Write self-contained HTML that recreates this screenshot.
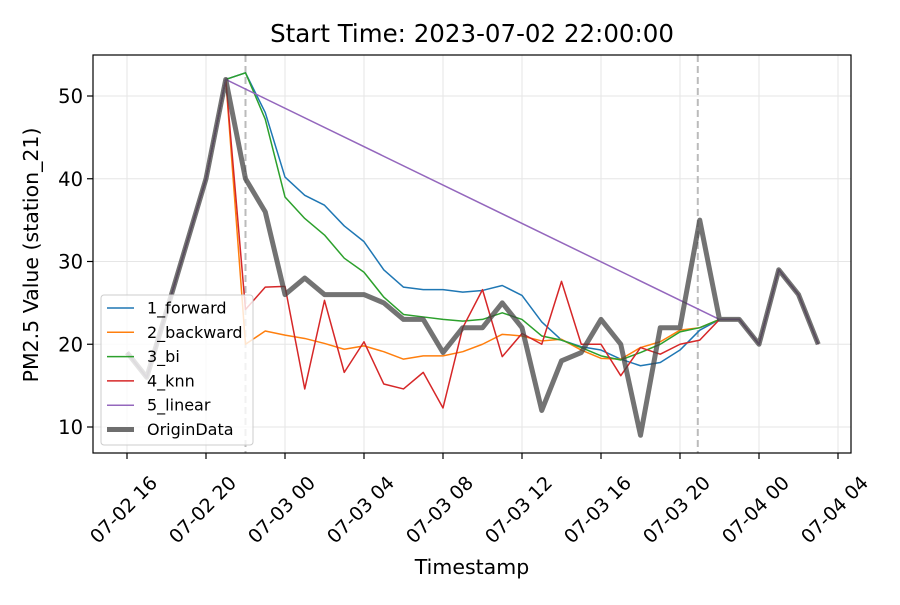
<!DOCTYPE html>
<html><head><meta charset="utf-8"><style>
body{margin:0;background:#fff}
svg text{font-family:"DejaVu Sans","Liberation Sans",sans-serif;fill:#000}
</style></head><body>
<svg id="c" width="900" height="600" xmlns="http://www.w3.org/2000/svg"></svg>
<script>
const xTickLabels=["07-02 16","07-02 20","07-03 00","07-03 04","07-03 08","07-03 12","07-03 16","07-03 20","07-04 00","07-04 04"];
const yTicks=[10,20,30,40,50];
const origin=[19,16,24,32,40,52,40,36,26,28,26,26,26,25,23,23,19,22,22,25,22,12,18,19,23,20,9,22,22,35,23,23,20,29,26,20];
const gapStart=5;
const forward=[52,52.8,48,40.2,38,36.8,34.3,32.4,29,26.9,26.6,26.6,26.3,26.5,27.1,25.9,22.7,20.5,19.7,19.3,18.2,17.4,17.8,19.3,21.7,23];
const backward=[52,20,21.6,21.1,20.7,20.1,19.4,19.8,19.1,18.2,18.6,18.6,19.1,20.0,21.2,21.0,20.4,20.6,19.3,18.3,18.2,19.6,20.3,21.7,22.0,23];
const bi=[52,52.8,47.2,37.8,35.2,33.2,30.4,28.7,25.7,23.6,23.3,23.0,22.8,23.0,23.8,23.0,21.0,20.5,19.6,18.6,18.1,19.0,20.0,21.5,22.0,23];
const knn=[52,24.2,26.9,27.0,14.6,25.3,16.6,20.3,15.2,14.6,16.6,12.3,22.0,26.6,18.5,21.3,20.0,27.6,20.0,20.0,16.2,19.6,18.8,20.0,20.5,23];
const linear=[52,23];
const linearIdx=[5,30];
const dashedIdx=[6,28.9];

const NS="http://www.w3.org/2000/svg";
const svg=document.getElementById('c');
const L=93,R=851,T=55,B=453;
const X=i=>127+19.75*i;
const Y=v=>96+(50-v)*8.275;
function mk(t,a,p){const e=document.createElementNS(NS,t);for(const k in a)e.setAttribute(k,a[k]);(p||svg).appendChild(e);return e;}
xTickLabels.forEach((s,k)=>{const x=X(k*4);
 const g=mk('line',{x1:x,x2:x,y1:T,y2:B,stroke:'#e6e6e6','stroke-width':1});
 
 });
yTicks.forEach(v=>{const y=Y(v);
 const g=mk('line',{x1:L,x2:R,y1:y,y2:y,stroke:'#e6e6e6','stroke-width':1});
 
 });
dashedIdx.forEach(i=>{const x=X(i);
 const d=mk('line',{x1:x,x2:x,y1:T,y2:B,stroke:'#bbb','stroke-width':2,'stroke-dasharray':'7,4'});
 
 });
function poly(pairs,color,w,name,op){
 const pts=pairs.map(p=>X(p[0]).toFixed(2)+','+Y(p[1]).toFixed(2)).join(' ');
 const p=mk('polyline',{points:pts,fill:'none',stroke:color,'stroke-width':w,'stroke-linejoin':'round',opacity:op||1});
 
 
}
function full(vals,off){
 const end=off+vals.length-1;
 const a=[];
 origin.forEach((v,i)=>{if(i<off)a.push([i,v]);});
 vals.forEach((v,i)=>a.push([i+off,v]));
 origin.forEach((v,i)=>{if(i>end)a.push([i,v]);});
 return a;
}
poly(full(forward,gapStart),'#1f77b4',1.5,'forward-line');
poly(full(backward,gapStart),'#ff7f0e',1.5,'backward-line');
poly(full(bi,gapStart),'#2ca02c',1.5,'bi-line');
poly(full(knn,gapStart),'#d62728',1.5,'knn-line');
(function(){
 const a=[];
 origin.forEach((v,i)=>{if(i<linearIdx[0])a.push([i,v]);});
 linear.forEach((v,k)=>a.push([linearIdx[k],v]));
 origin.forEach((v,i)=>{if(i>linearIdx[1])a.push([i,v]);});
 poly(a,'#9467bd',1.5,'linear-line');
})();
poly(origin.map((v,i)=>[i,v]),'#444',5,'origin-data-line',0.75);
const f=mk('rect',{x:L,y:T,width:R-L,height:B-T,fill:'none',stroke:'#000','stroke-width':1.2});


xTickLabels.forEach((s,k)=>{const x=X(k*4);
 mk('line',{x1:x,x2:x,y1:B,y2:B+6,stroke:'#000','stroke-width':1.2});
 const cx=x-3,cy=B+57;
 const t=mk('text',{x:cx,y:cy,'font-size':19,'text-anchor':'middle','dominant-baseline':'central',transform:`rotate(-45 ${cx} ${cy})`});
 t.textContent=s;
 
 });
yTicks.forEach(v=>{const y=Y(v);
 mk('line',{x1:L-6,x2:L,y1:y,y2:y,stroke:'#000','stroke-width':1.2});
 const t=mk('text',{x:L-10,y:y+7,'font-size':19.5,'text-anchor':'end'});
 t.textContent=v;
 
 });
const tt=mk('text',{x:472,y:42,'font-size':24.5,'text-anchor':'middle'});tt.textContent='Start Time: 2023-07-02 22:00:00';


const xl=mk('text',{x:472,y:574,'font-size':20.5,'text-anchor':'middle'});xl.textContent='Timestamp';


const yl=mk('text',{x:38,y:255,'font-size':20.5,'text-anchor':'middle',transform:'rotate(-90 38 255)'});yl.textContent='PM2.5 Value (station_21)';


const lg=mk('g',{});


mk('rect',{x:101,y:295,width:152,height:150,rx:3,fill:'#fff','fill-opacity':0.8,stroke:'#ccc'},lg);
const ents=[['1_forward','#1f77b4',1.5],['2_backward','#ff7f0e',1.5],['3_bi','#2ca02c',1.5],['4_knn','#d62728',1.5],['5_linear','#9467bd',1.5],['OriginData','#6e6e6e',5]];
ents.forEach((e,k)=>{const y=308+k*24.3;
 const g=mk('g',{},lg);
 
 
 mk('line',{x1:107,x2:134,y1:y,y2:y,stroke:e[1],'stroke-width':e[2]},g);
 const t=mk('text',{x:147,y:y+5.5,'font-size':16},g);t.textContent=e[0];});
</script>
</body></html>
